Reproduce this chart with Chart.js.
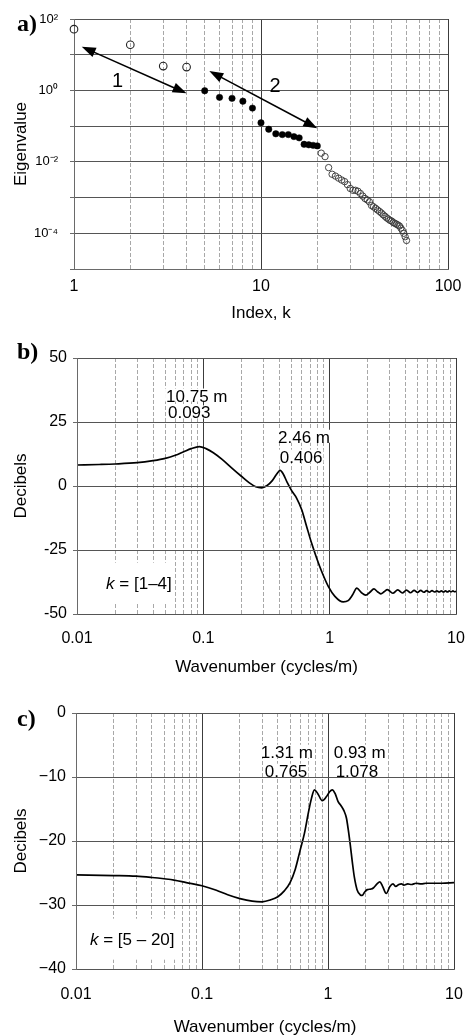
<!DOCTYPE html>
<html><head><meta charset="utf-8">
<style>
html,body{margin:0;padding:0;background:#fff;}
body{width:465px;height:1036px;position:relative;overflow:hidden;}
canvas{position:absolute;left:0;}
.pl{position:absolute;font-family:"Liberation Serif","Times New Roman",serif;font-weight:bold;font-size:24px;line-height:24px;color:#000;}
</style>
<script src="https://cdn.jsdelivr.net/npm/chart.js"></script>
</head><body>
<canvas id="ca" width="465" height="330" style="top:0px"></canvas>
<canvas id="cb" width="465" height="360" style="top:330px"></canvas>
<canvas id="cc" width="465" height="346" style="top:690px"></canvas>
<div class="pl" style="left:17px;top:11px">a)</div>
<div class="pl" style="left:17px;top:339px">b)</div>
<div class="pl" style="left:17px;top:706px">c)</div>
<script>
// ---------- Panel a data ----------
const kOpenA = [1, 2, 3, 4];
const eigOpenA = [52, 19, 4.8, 4.5];
const kFilled = [5, 6, 7, 8, 9, 10, 11, 12, 13, 14, 15, 16, 17, 18, 19, 20];
const eigFilled = [0.98, 0.64, 0.6, 0.5, 0.32, 0.124, 0.082, 0.061, 0.058, 0.058, 0.051, 0.047, 0.031, 0.030, 0.029, 0.028];
const kOpenB = [21, 22, 23, 24, 25, 26, 27, 28, 29, 30, 31, 32, 33, 34, 35, 36, 37, 38, 39, 40,
                41, 42, 43, 44, 45, 46, 47, 48, 49, 50, 51, 52, 53, 54, 55, 56, 57, 58, 59, 60];
const eigOpenB = [0.0175, 0.014, 0.0069, 0.0045, 0.0040, 0.0035, 0.0031, 0.0028, 0.0023, 0.0018,
                  0.0016, 0.0016, 0.0015, 0.0013, 0.0011, 0.00094, 0.00086, 0.00076, 0.0006, 0.00055,
                  0.0005, 0.00045, 0.00041, 0.00037, 0.00033, 0.0003, 0.00027, 0.00025, 0.00023, 0.00022,
                  0.0002, 0.00019, 0.00018, 0.00017, 0.00016, 0.00014, 0.00012, 0.0001, 0.00008, 0.000063];
const xTicksA = [1, 2, 3, 4, 5, 6, 7, 8, 9, 10, 20, 30, 40, 50, 60, 70, 80, 90, 100];
const xLabelsA = ['1', '', '', '', '', '', '', '', '', '10', '', '', '', '', '', '', '', '', '100'];
const yTicksA = [1e-5, 1e-4, 1e-3, 1e-2, 1e-1, 1, 10, 100];
const yLabelsA = ['', '10\u207B\u2074', '', '10\u207B\u00B2', '', '10\u2070', '', '10\u00B2'];
const arrowStartK = [1.1, 5.29];
const arrowStartV = [16.7, 3.5];
const arrowEndK = [4.0, 20];
const arrowEndV = [0.83, 0.087];
const arrowTextK = [1.71, 11.9];
const arrowTextV = [1.24, 0.9];
const arrowText = ['1', '2'];

// ---------- Panel b data ----------
const freqB = [0.01, 0.015, 0.02, 0.03, 0.04, 0.05, 0.06, 0.07, 0.08, 0.093, 0.105, 0.12, 0.14, 0.17, 0.2,
               0.23, 0.26, 0.29, 0.32, 0.35, 0.38, 0.406, 0.43, 0.46, 0.5, 0.547, 0.6, 0.657, 0.719, 0.788,
               0.863, 0.975, 1.1, 1.28, 1.4, 1.52, 1.64, 1.78, 1.93, 2.08, 2.24, 2.39, 2.54, 2.7, 2.86,
               3.16, 3.46, 3.76, 4.06, 4.36, 4.66, 4.96, 5.26, 5.56, 5.86, 6.16, 6.46, 6.76, 7.06, 7.36,
               7.66, 7.96, 8.26, 8.56, 8.86, 9.16, 9.46, 9.76, 10];
const dbB = [8.2, 8.4, 8.6, 9.1, 9.9, 10.8, 12.0, 13.4, 14.6, 15.4, 14.6, 13.0, 10.5, 6.8, 3.8,
             1.3, -0.3, -0.7, 0.2, 2.0, 4.6, 6.1, 4.6, 1.5, -1.8, -4.7, -9.2, -15.8, -22.3, -28.1,
             -33.3, -39.2, -43.1, -45.3, -44.8, -42.5, -39.9, -41.6, -42.6, -41.5, -40.2, -41.3, -42.1, -41.3, -40.5,
             -41.9, -40.6, -41.8, -40.7, -41.7, -40.8, -41.6, -40.8, -41.5, -40.9, -41.5, -40.9, -41.4, -41.0, -41.4,
             -41.0, -41.4, -41.0, -41.4, -41.0, -41.3, -41.0, -41.3, -41.1];
const xTicksLog = [0.01, 0.02, 0.03, 0.04, 0.05, 0.06, 0.07, 0.08, 0.09, 0.1, 0.2, 0.3, 0.4, 0.5, 0.6, 0.7, 0.8, 0.9,
                   1, 2, 3, 4, 5, 6, 7, 8, 9, 10];
const xLabelsLog = ['0.01', '', '', '', '', '', '', '', '', '0.1', '', '', '', '', '', '', '', '',
                    '1', '', '', '', '', '', '', '', '', '10'];
const yTicksB = [-50, -25, 0, 25, 50];
const yLabelsB = ['-50', '-25', '0', '25', '50'];
const notesB = [
  {x: 0.0507, y: 33.0, parts: [['10.75 m', false]]},
  {x: 0.0525, y: 26.4, parts: [['0.093', false]]},
  {x: 0.39, y: 16.9, parts: [['2.46 m', false]]},
  {x: 0.403, y: 9.1, parts: [['0.406', false]]},
  {x: 0.017, y: -40.1, parts: [['k', true], [' = [1\u20134]', false]], box: true}
];

// ---------- Panel c data ----------
const freqC = [0.01, 0.02, 0.03, 0.04, 0.05, 0.06, 0.075, 0.1, 0.13, 0.16, 0.2, 0.25, 0.3, 0.35, 0.4,
               0.45, 0.5, 0.55, 0.6, 0.65, 0.7, 0.74, 0.78, 0.83, 0.9, 0.97, 1.03, 1.08, 1.14, 1.2,
               1.27, 1.34, 1.4, 1.45, 1.5, 1.56, 1.62, 1.7, 1.8, 1.87, 1.95, 2.05, 2.2, 2.3, 2.45,
               2.58, 2.7, 2.9, 3.1, 3.28, 3.45, 3.65, 3.83, 4.0, 4.3, 4.6, 5, 5.5, 6, 7, 8, 10];
const dbC = [-25.3, -25.4, -25.5, -25.7, -25.9, -26.1, -26.5, -27.0, -27.7, -28.4, -29.0, -29.4, -29.5, -29.2, -28.7,
             -27.8, -26.5, -24.4, -21.5, -18.8, -15.5, -13.3, -12.0, -12.6, -13.7, -13.1, -12.3, -12.0, -12.6, -13.8,
             -14.5, -15.3, -16.4, -18.3, -20.5, -23.3, -25.7, -27.6, -28.4, -28.5, -28.0, -27.6, -27.5, -27.3, -26.7,
             -26.4, -27.0, -28.2, -27.1, -26.7, -27.1, -26.8, -26.7, -26.9, -26.7, -26.8, -26.6, -26.7, -26.6, -26.6, -26.6, -26.5];
const yTicksC = [-40, -30, -20, -10, 0];
const yLabelsC = ['\u221240', '\u221230', '\u221220', '\u221210', '0'];
const notesC = [
  {x: 0.293, y: -7.0, parts: [['1.31 m', false]]},
  {x: 0.315, y: -9.95, parts: [['0.765', false]]},
  {x: 1.11, y: -7.0, parts: [['0.93 m', false]]},
  {x: 1.15, y: -9.95, parts: [['1.078', false]]},
  {x: 0.0129, y: -36.2, parts: [['k', true], [' = [5 \u2013 20]', false]], box: true}
];

// ---------- helpers ----------
const FONT = '"Liberation Sans", Arial, Helvetica, sans-serif';
const MAJOR = '#3c3c3c', MINOR = '#a8a8a8', HGRID = '#555555', AXIS = '#6a6a6a';
function isDecade(v) { const l = Math.log10(v); return Math.abs(l - Math.round(l)) < 1e-6; }
function pts(xs, ys) { return xs.map((x, i) => ({x: x, y: ys[i]})); }

function logX(ticks, labels, min, max, height, pad, titleText, titlePad, titleLH) {
  return {
    type: 'logarithmic', min: min, max: max,
    afterBuildTicks: s => { s.ticks = ticks.map(v => ({value: v, major: isDecade(v)})); },
    afterFit: s => { s.height = height; s.paddingLeft = 0; s.paddingRight = 0; },
    ticks: {autoSkip: false, maxRotation: 0, minRotation: 0, padding: pad, color: '#000',
      font: {family: FONT, size: 16},
      callback: (v, i) => labels[i]},
    grid: {drawTicks: false, lineWidth: 1,
      color: c => (c.tick && isDecade(c.tick.value)) ? MAJOR : MINOR},
    border: {color: AXIS, dash: c => (c.tick && !isDecade(c.tick.value)) ? [4, 2] : []},
    title: titleText ? {display: true, text: titleText, color: '#000',
      font: {family: FONT, size: 17, lineHeight: titleLH}, padding: {top: 0, bottom: titlePad}} : {display: false}
  };
}
function yAxis(type, ticks, labels, min, max, fontSize, pad, titleText, width, gridZ) {
  return {
    type: type, min: min, max: max,
    afterBuildTicks: s => { s.ticks = ticks.map(v => ({value: v})); },
    afterFit: s => { s.width = width; s.paddingTop = 0; s.paddingBottom = 0; },
    ticks: {autoSkip: false, padding: pad, color: '#000', font: {family: FONT, size: fontSize},
      callback: (v, i) => labels[i]},
    grid: {color: HGRID, tickColor: AXIS, tickLength: 4, lineWidth: 1, z: gridZ},
    border: {color: AXIS, z: gridZ},
    title: {display: true, text: titleText, color: '#000', font: {family: FONT, size: 17},
      padding: {top: 11, bottom: 0}}
  };
}

const notesPlugin = {
  id: 'notesPlugin',
  beforeDatasetsDraw(chart) {
    const notes = chart.config.options.plugins.notesPlugin.items || [];
    const {ctx, scales: {x, y}} = chart;
    ctx.save();
    notes.forEach(n => {
      const px = x.getPixelForValue(n.x), py = y.getPixelForValue(n.y);
      let w = 0;
      n.parts.forEach(p => { ctx.font = (p[1] ? 'italic ' : '') + '17px ' + FONT; w += ctx.measureText(p[0]).width; });
      ctx.fillStyle = '#fff';
      if (n.box) ctx.fillRect(px - 3, py - 26, w + 5, 41);
      else ctx.fillRect(px - 1, py - 13, w + 2, 13);
      let cx = px;
      ctx.fillStyle = '#000';
      ctx.textBaseline = 'alphabetic';
      ctx.textAlign = 'left';
      n.parts.forEach(p => {
        ctx.font = (p[1] ? 'italic ' : '') + '17px ' + FONT;
        ctx.fillText(p[0], cx, py);
        cx += ctx.measureText(p[0]).width;
      });
    });
    ctx.restore();
  }
};

const arrowPlugin = {
  id: 'arrowPlugin',
  afterDatasetsDraw(chart) {
    const {ctx, scales: {x, y}} = chart;
    ctx.save();
    ctx.strokeStyle = '#000';
    ctx.fillStyle = '#000';
    ctx.lineWidth = 1.6;
    const head = 14, half = 5;
    for (let i = 0; i < arrowStartK.length; i++) {
      const x1 = x.getPixelForValue(arrowStartK[i]), y1 = y.getPixelForValue(arrowStartV[i]);
      const x2 = x.getPixelForValue(arrowEndK[i]), y2 = y.getPixelForValue(arrowEndV[i]);
      const ang = Math.atan2(y2 - y1, x2 - x1);
      const ux = Math.cos(ang), uy = Math.sin(ang);
      ctx.beginPath();
      ctx.moveTo(x1 + ux * (head - 2), y1 + uy * (head - 2));
      ctx.lineTo(x2 - ux * (head - 2), y2 - uy * (head - 2));
      ctx.stroke();
      [[x1, y1, 1], [x2, y2, -1]].forEach(([px, py, d]) => {
        const bx = px + ux * head * d, by = py + uy * head * d;
        ctx.beginPath();
        ctx.moveTo(px, py);
        ctx.lineTo(bx - uy * half, by + ux * half);
        ctx.lineTo(bx + uy * half, by - ux * half);
        ctx.closePath();
        ctx.fill();
      });
    }
    ctx.font = '20px ' + FONT;
    ctx.textAlign = 'center';
    ctx.textBaseline = 'alphabetic';
    for (let i = 0; i < arrowText.length; i++) {
      ctx.fillText(arrowText[i], x.getPixelForValue(arrowTextK[i]), y.getPixelForValue(arrowTextV[i]));
    }
    ctx.restore();
  }
};

const common = {responsive: false, animation: false, devicePixelRatio: 1};

// ---------- Chart a ----------
new Chart(document.getElementById('ca'), {
  type: 'scatter',
  data: {datasets: [
    {data: pts(kOpenA, eigOpenA), clip: false, pointRadius: 3.8, pointBackgroundColor: 'rgba(0,0,0,0)', pointBorderColor: '#222', pointBorderWidth: 1.1},
    {data: pts(kFilled, eigFilled), clip: false, pointRadius: 3.2, pointBackgroundColor: '#000', pointBorderColor: '#000', pointBorderWidth: 0.5},
    {data: pts(kOpenB, eigOpenB), clip: false, pointRadius: 3.2, pointBackgroundColor: 'rgba(0,0,0,0)', pointBorderColor: '#333', pointBorderWidth: 0.9}
  ]},
  options: Object.assign({}, common, {
    layout: {padding: {top: 19, right: 17, left: 0, bottom: 0}},
    plugins: {legend: {display: false}, tooltip: {enabled: false}},
    scales: {
      x: logX(xTicksA, xLabelsA, 1, 100, 61, 8, 'Index, k', 6, 1.2),
      y: yAxis('logarithmic', yTicksA, yLabelsA, 1e-5, 100, 13, 12, 'Eigenvalue', 74, -1)
    }
  }),
  plugins: [arrowPlugin]
});

// ---------- Chart b ----------
new Chart(document.getElementById('cb'), {
  type: 'scatter',
  data: {datasets: [
    {data: pts(freqB, dbB), showLine: true, pointRadius: 0, borderColor: '#000', borderWidth: 1.7, cubicInterpolationMode: 'monotone'}
  ]},
  options: Object.assign({}, common, {
    layout: {padding: {top: 28, right: 9, left: 0, bottom: 0}},
    plugins: {legend: {display: false}, tooltip: {enabled: false}, notesPlugin: {items: notesB}},
    scales: {
      x: logX(xTicksLog, xLabelsLog, 0.01, 10, 76, 15, 'Wavenumber (cycles/m)', 12, 1.2),
      y: yAxis('linear', yTicksB, yLabelsB, -50, 50, 16, 6, 'Decibels', 77, 1)
    }
  }),
  plugins: [notesPlugin]
});

// ---------- Chart c ----------
new Chart(document.getElementById('cc'), {
  type: 'scatter',
  data: {datasets: [
    {data: pts(freqC, dbC), showLine: true, pointRadius: 0, borderColor: '#000', borderWidth: 1.7, cubicInterpolationMode: 'monotone'}
  ]},
  options: Object.assign({}, common, {
    layout: {padding: {top: 23, right: 11, left: 0, bottom: 0}},
    plugins: {legend: {display: false}, tooltip: {enabled: false}, notesPlugin: {items: notesC}},
    scales: {
      x: logX(xTicksLog, xLabelsLog, 0.01, 10, 67, 16, 'Wavenumber (cycles/m)', 0, 1.0),
      y: yAxis('linear', yTicksC, yLabelsC, -40, 0, 16, 6, 'Decibels', 76, 1)
    }
  }),
  plugins: [notesPlugin]
});
</script>
</body></html>
